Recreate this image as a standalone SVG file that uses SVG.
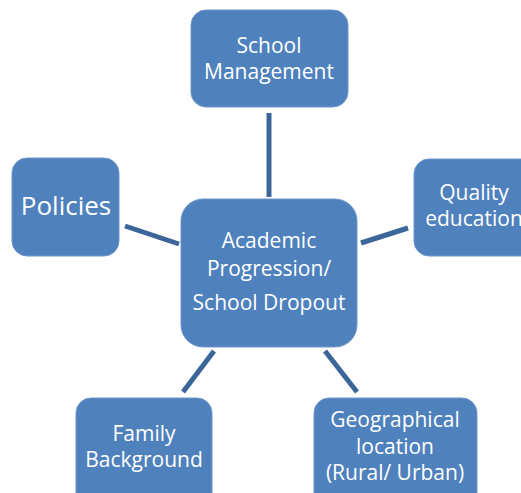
<svg xmlns="http://www.w3.org/2000/svg" width="521" height="493" viewBox="0 0 521 493">
  <style>
    .box { fill: #4f81bd; stroke: #6f96c8; stroke-width: 1; }
    .lbl { fill: #ffffff; font-family: "Open Sans", "Liberation Sans", sans-serif; font-size: 21px; text-anchor: middle; }
    .link { stroke: #3c6699; stroke-width: 5; fill: none; }
  </style>
  <rect width="521" height="493" fill="#ffffff"/>

  <g id="connectors">
    <line class="link" x1="269" y1="113" x2="269" y2="197"/>
    <line class="link" x1="125" y1="226" x2="179" y2="244"/>
    <line class="link" x1="361" y1="243" x2="408" y2="228"/>
    <line class="link" x1="214" y1="351" x2="183" y2="392"/>
    <line class="link" x1="325" y1="351" x2="357" y2="392"/>
  </g>

  <g id="school-management">
    <rect class="box" x="191" y="10" width="157" height="97" rx="15"/>
    <text class="lbl" x="269" y="53">School</text>
    <text class="lbl" x="269" y="79">Management</text>
  </g>

  <g id="policies">
    <rect class="box" x="12" y="158" width="107" height="98" rx="15"/>
    <text class="lbl" x="66" y="215" style="font-size:26px">Policies</text>
  </g>

  <g id="quality-education">
    <rect class="box" x="414" y="159" width="130" height="97" rx="15"/>
    <text class="lbl" x="474" y="200">Quality</text>
    <text class="lbl" x="474" y="226">education</text>
  </g>

  <g id="academic-progression">
    <rect class="box" x="181" y="199" width="176" height="148" rx="22"/>
    <text class="lbl" x="269" y="248">Academic</text>
    <text class="lbl" x="269" y="276">Progression/</text>
    <text class="lbl" x="269" y="310">School Dropout</text>
  </g>

  <g id="family-background">
    <rect class="box" x="76" y="398" width="136" height="110" rx="15"/>
    <text class="lbl" x="144" y="441">Family</text>
    <text class="lbl" x="144" y="467">Background</text>
  </g>

  <g id="geographical-location">
    <rect class="box" x="314" y="398" width="163" height="110" rx="15"/>
    <text class="lbl" x="395" y="427">Geographical</text>
    <text class="lbl" x="395" y="454">location</text>
    <text class="lbl" x="395" y="480">(Rural/ Urban)</text>
  </g>
</svg>
